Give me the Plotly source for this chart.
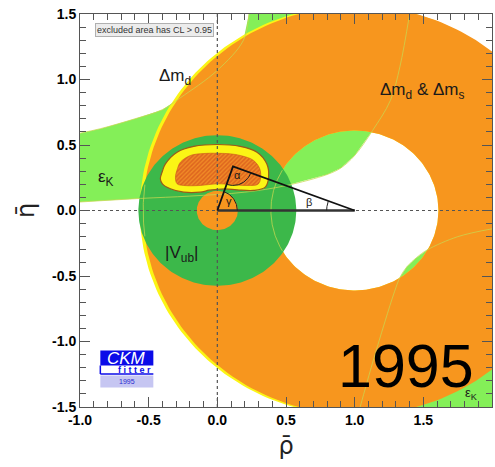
import numpy as np
import plotly.graph_objects as go

# ---------------- data ----------------
rho_ticks = [-1.0, -0.5, 0.0, 0.5, 1.0, 1.5, 2.0]
rho_labels = ["-1.0", "-0.5", "0.0", "0.5", "1.0", "1.5", "2.0"]
eta_ticks = [-1.5, -1.0, -0.5, 0.0, 0.5, 1.0, 1.5]
eta_labels = ["-1.5", "-1.0", "-0.5", "0.0", "0.5", "1.0", "1.5"]

# epsilon_K band (upper-left branch): upper and lower edges
epsK_up_rho = [-1.0, -0.85, -0.6, -0.4, -0.27, 0.0, 0.19, 0.23]
epsK_up_eta = [0.59, 0.625, 0.70, 0.77, 0.86, 1.07, 1.30, 1.5]
epsK_lo_rho = [-1.0, -0.56, -0.2, 0.2, 0.5, 0.8, 0.9, 1.0, 1.13, 1.26, 1.33, 1.4]
epsK_lo_eta = [0.065, 0.092, 0.11, 0.14, 0.19, 0.275, 0.325, 0.42, 0.61, 0.84, 1.1, 1.5]
# epsilon_K band (lower-right branch): edge
epsK2_rho = [2.0, 1.75, 1.53, 1.45, 1.38, 1.33, 1.29, 1.22, 1.12, 1.04]
epsK2_eta = [-0.14, -0.2, -0.30, -0.36, -0.43, -0.51, -0.62, -0.85, -1.2, -1.5]

# Delta m_d & Delta m_s ring (centre, radii)
dm_center = [1.02, 0.0]
dm_r_out = 1.56
dm_hole_center = [1.0, 0.0]
dm_r_in = 0.61
dm_yellow_center = [1.0, 0.0]
dm_yellow_r = 1.565

# |Vub| ring
vub_center = [0.0, 0.0]
vub_r_out = 0.575
vub_r_in = 0.15

# global fit region (95% yellow, hatched 68%)
fit95_rho = [-0.415, -0.40, -0.378, -0.293, -0.172, 0.0, 0.167, 0.289, 0.36, 0.373,
             0.349, 0.264, 0.143, 0.06, 0.0, -0.06, -0.124, -0.245, -0.342, -0.40]
fit95_eta = [0.242, 0.30, 0.356, 0.445, 0.489, 0.504, 0.489, 0.445, 0.356, 0.254,
             0.178, 0.153, 0.158, 0.165, 0.162, 0.155, 0.14, 0.14, 0.166, 0.204]
fit68_rho = [-0.305, -0.29, -0.269, -0.196, -0.1, 0.0, 0.1, 0.167, 0.264, 0.313,
             0.30, 0.216, 0.095, 0.0, -0.124, -0.245, -0.293]
fit68_eta = [0.254, 0.32, 0.369, 0.42, 0.435, 0.437, 0.432, 0.42, 0.382, 0.305,
             0.204, 0.191, 0.198, 0.204, 0.191, 0.191, 0.204]

# unitarity triangle
apex = [0.114, 0.336]
tri_base = [[0.0, 0.0], [1.0, 0.0]]

# ---------------- styles ----------------
C_ORANGE = "#f7961e"
C_LGREEN = "#84ef58"
C_DGREEN = "#3cb84a"
C_YELLOW = "#fbf515"
C_CONT = "rgba(200,215,80,0.75)"
PXX = 412.0 / 3.0   # px per unit rho
PXY = 393.0 / 3.0   # px per unit eta


def circle(c, r, a0=0.0, a1=2 * np.pi, n=240):
    t = np.linspace(a0, a1, n)
    return c[0] + r * np.cos(t), c[1] + r * np.sin(t)


def ring(c_out, r_out, c_in, r_in, seam):
    xo, yo = circle(c_out, r_out, seam, seam + 2 * np.pi)
    xi, yi = circle(c_in, r_in, seam + 2 * np.pi, seam)
    return list(xo) + list(xi) + [xo[0]], list(yo) + list(yi) + [yo[0]]


fig = go.Figure()


def fill(x, y, color, line=None, spline=False, **kw):
    fig.add_trace(go.Scatter(
        x=x, y=y, mode="lines", fill="toself", fillcolor=color,
        line=line or dict(width=0, color=color),
        line_shape="spline" if spline else "linear",
        hoverinfo="skip", **kw))


def line(x, y, color, width, dash=None, shape="linear"):
    fig.add_trace(go.Scatter(x=x, y=y, mode="lines",
                             line=dict(color=color, width=width, dash=dash, shape=shape),
                             hoverinfo="skip"))


# epsilon_K
fill(epsK_up_rho + [1.4] + epsK_lo_rho[::-1], epsK_up_eta + [1.5] + epsK_lo_eta[::-1], C_LGREEN)
fill(epsK2_rho + [2.0], epsK2_eta + [-1.5], C_LGREEN)

# Delta m rings
yx, yy = ring(dm_yellow_center, dm_yellow_r, dm_hole_center, dm_r_in, np.pi)
fill(yx, yy, C_YELLOW)
ox, oy = ring(dm_center, dm_r_out, dm_hole_center, dm_r_in, np.pi)
fill(ox, oy, C_ORANGE)

# |Vub| ring
vx, vy = ring(vub_center, vub_r_out, vub_center, vub_r_in, np.pi / 2)
fill(vx, vy, C_DGREEN)

# faint contour lines
line(epsK_lo_rho, epsK_lo_eta, C_CONT, 1, shape="spline")
line(epsK_up_rho, epsK_up_eta, C_CONT, 1, shape="spline")
line(epsK2_rho, epsK2_eta, C_CONT, 1, shape="spline")
for c, r in [(dm_hole_center, dm_r_in), (dm_center, dm_r_out), (dm_yellow_center, dm_yellow_r)]:
    cx, cy = circle(c, r, n=720)
    inside = np.hypot(cx - vub_center[0], cy - vub_center[1]) < vub_r_out - 0.01
    line([float(v) if m else None for v, m in zip(cx, inside)],
         [float(v) if m else None for v, m in zip(cy, inside)], C_CONT, 1)

# global fit
fill(fit95_rho + [fit95_rho[0]], fit95_eta + [fit95_eta[0]], C_YELLOW,
     line=dict(color="#9a5a1a", width=1.2), spline=True)
fig.add_trace(go.Scatter(
    x=fit68_rho + [fit68_rho[0]], y=fit68_eta + [fit68_eta[0]], mode="lines",
    fill="toself", line=dict(color="#c8561a", width=0.6, shape="spline"),
    fillpattern=dict(shape="/", bgcolor="#f08a26", fgcolor="#cc3f18", size=3, solidity=0.5),
    hoverinfo="skip"))

# dashed axes through origin
line([0.0, 0.0], [-1.5, 1.5], "#555555", 1.2, dash="3px,3px")
line([-1.0, 2.0], [0.0, 0.0], "#555555", 1.2, dash="3px,3px")

# triangle
line([tri_base[0][0], tri_base[1][0]], [tri_base[0][1], tri_base[1][1]], "#333333", 2.6)
line([tri_base[0][0], apex[0], tri_base[1][0]], [tri_base[0][1], apex[1], tri_base[1][1]],
     "#111111", 1.8)


def arc(cx, cy, rpx, a0, a1):
    t = np.linspace(a0, a1, 40)
    line(list(cx + rpx * np.cos(t) / PXX), list(cy + rpx * np.sin(t) / PXY), "#222222", 1)


def pang(dx, dy):
    return np.arctan2(dy * PXY, dx * PXX)


a_apex_to_o = pang(-apex[0], -apex[1])
a_apex_to_1 = pang(1 - apex[0], -apex[1])
if a_apex_to_1 < a_apex_to_o:
    a_apex_to_1 += 2 * np.pi
arc(0.0, 0.0, 20, 0.0, pang(apex[0], apex[1]))
arc(apex[0], apex[1], 19, a_apex_to_o, a_apex_to_1)
arc(1.0, 0.0, 28, pang(apex[0] - 1, apex[1]), np.pi)

# ---------------- text ----------------
TF = "Liberation Sans, Arial, sans-serif"
ann = [
    dict(x=-0.305, y=1.02, text="Δm<sub>d</sub>", size=17),
    dict(x=1.49, y=0.915, text="Δm<sub>d</sub> &amp; Δm<sub>s</sub>", size=17),
    dict(x=-0.81, y=0.245, text="ε<sub>K</sub>", size=17),
    dict(x=-0.26, y=-0.335, text="|V<sub>ub</sub>|", size=17),
    dict(x=1.85, y=-1.40, text="ε<sub>K</sub>", size=13),
    dict(x=0.148, y=0.272, text="α", size=11),
    dict(x=0.082, y=0.069, text="γ", size=11),
    dict(x=0.664, y=0.063, text="β", size=11),
]
for a in ann:
    fig.add_annotation(x=a["x"], y=a["y"], text=a["text"], showarrow=False,
                       font=dict(family=TF, size=a["size"], color="#1a1a1a"))

fig.add_annotation(x=-0.455, y=1.375, text="excluded area has CL &gt; 0.95", showarrow=False,
                   font=dict(family=TF, size=9, color="#333333"), bgcolor="#ececec",
                   bordercolor="#b0b0b0", borderwidth=1, borderpad=1)

fig.add_annotation(x=1.375, y=-1.19, text="1995", showarrow=False,
                   font=dict(family=TF, size=61, color="black"))

# CKMfitter logo
logo_x = [-0.852, -0.466]
fig.add_shape(type="rect", x0=logo_x[0], x1=logo_x[1], y0=-1.183, y1=-1.069,
              fillcolor="#0b0be8", line=dict(width=0))
fig.add_shape(type="rect", x0=logo_x[0], x1=logo_x[1], y0=-1.351, y1=-1.26,
              fillcolor="#c6c6f2", line=dict(width=0))
fig.add_shape(type="line", x0=logo_x[0], x1=logo_x[1], y0=-1.248, y1=-1.248,
              line=dict(color="#0b0be8", width=1.5))
fig.add_shape(type="line", x0=logo_x[0], x1=logo_x[0], y0=-1.248, y1=-1.183,
              line=dict(color="#0b0be8", width=1.5))
fig.add_annotation(x=-0.659, y=-1.126, text="<i>CKM</i>", showarrow=False,
                   font=dict(family=TF, size=17, color="white"))
fig.add_annotation(x=-0.60, y=-1.217, text="<b>f i t t e r</b>", showarrow=False,
                   font=dict(family=TF, size=9, color="#0b0be8"))
fig.add_annotation(x=-0.659, y=-1.305, text="1995", showarrow=False,
                   font=dict(family=TF, size=7, color="#2a2ad0"))

axis_common = dict(
    ticks="inside", ticklen=10, tickwidth=1, tickcolor="#555555",
    showline=True, linecolor="#555555", linewidth=1, mirror="allticks",
    showgrid=False, zeroline=False,
    minor=dict(dtick=0.1, ticks="inside", ticklen=6, tickcolor="#555555", showgrid=False),
    tickfont=dict(family=TF, size=14, color="black", weight="bold"),
)
fig.update_xaxes(range=[-1.0, 2.0], tickvals=rho_ticks, ticktext=rho_labels,
                 title=dict(text="ρ\u0304", font=dict(family="DejaVu Sans", size=24, color="#222"),
                            standoff=10), **axis_common)
fig.update_yaxes(range=[-1.5, 1.5], tickvals=eta_ticks, ticktext=eta_labels,
                 title=dict(text="η\u0304", font=dict(family="DejaVu Sans", size=24, color="#222"),
                            standoff=10), **axis_common)
fig.update_layout(width=495, height=467, margin=dict(l=80, r=3, t=14, b=60),
                  plot_bgcolor="white", paper_bgcolor="white", showlegend=False)

fig.write_html("out.html")
